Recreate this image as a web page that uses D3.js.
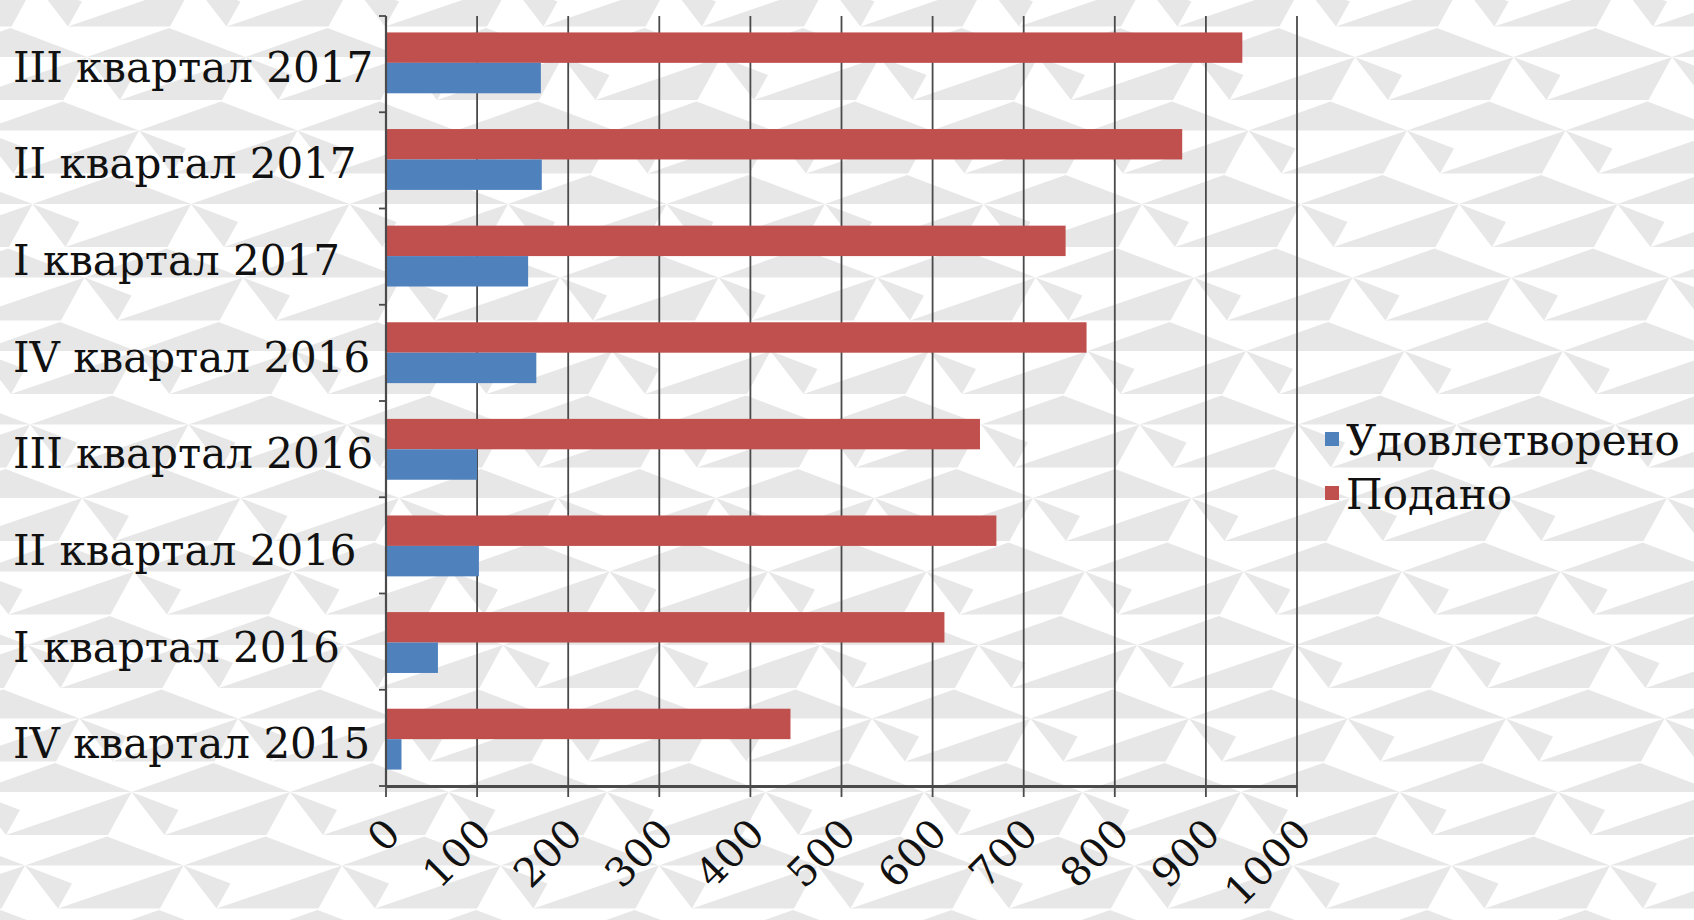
<!DOCTYPE html>
<html><head><meta charset="utf-8">
<script src="https://cdn.jsdelivr.net/npm/d3@7"></script>
<style>body{margin:0;background:#fff;overflow:hidden} svg{display:block}</style>
</head><body><svg id="c" width="1694" height="920"></svg>
<script>
// ---- data ----
const categories = ["IV квартал 2015","I квартал 2016","II квартал 2016","III квартал 2016","IV квартал 2016","I квартал 2017","II квартал 2017","III квартал 2017"];
const satisfied = [17, 57, 102, 100, 165, 156, 171, 170];
const submitted = [444, 613, 670, 652, 769, 746, 874, 940];
const seriesNames = ["Удовлетворено", "Подано"];
const seriesColors = ["#4F81BD", "#C0504D"];
const xTickValues = [0,100,200,300,400,500,600,700,800,900,1000];

(function () {
const W = 1694, H = 920;
const svg = d3.select("#c");

// ---- decorative background pattern ----
const bg = svg.append("g");
bg.append("rect").attr("width", W).attr("height", H).attr("fill", "#ffffff");
const P = 158.5, RH = 73.5, SH = 52, Y0 = 57, X0 = 1355;
const shapes = [
  [[0,0],[82,-29],[P,0]],
  [[0,0],[47,18],[33,43]],
  [[33,43],[P,0],[135,43]]
];
for (let k = -2; k < 14; k++) {
  const vy = Y0 + RH * k;
  let phase = ((X0 + SH * k) % P + P) % P;
  for (let vx = phase - 2 * P; vx < W + P; vx += P) {
    shapes.forEach(s => {
      bg.append("polygon")
        .attr("points", s.map(p => [vx + p[0], vy + p[1]].join(",")).join(" "))
        .attr("fill", "#e7e7e7");
    });
  }
}

// ---- chart ----
const pL = 386, pR = 1297, pT = 16, pB = 786;
const x = d3.scaleLinear().domain([0, 1000]).range([pL, pR]);
const y = d3.scaleBand().domain(categories.slice().reverse()).range([pT, pB]).paddingInner(0.37).paddingOuter(0.17);
const sub = d3.scaleBand().domain(["Подано","Удовлетворено"]).range([0, y.bandwidth()]);

const axisColor = "#4a4a4a";
// gridlines
svg.append("g").selectAll("line").data(xTickValues).join("line")
  .attr("x1", d => x(d)).attr("x2", d => x(d))
  .attr("y1", pT).attr("y2", pB + 11)
  .attr("stroke", axisColor).attr("stroke-width", 1.8);

// bars
const rows = categories.map((c, i) => ({c, s: satisfied[i], p: submitted[i]}));
const gBars = svg.append("g");
gBars.selectAll("rect.p").data(rows).join("rect").attr("class","p")
  .attr("x", x(0)).attr("y", d => y(d.c) + sub("Подано"))
  .attr("width", d => x(d.p) - x(0)).attr("height", sub.bandwidth())
  .attr("fill", seriesColors[1]);
gBars.selectAll("rect.s").data(rows).join("rect").attr("class","s")
  .attr("x", x(0)).attr("y", d => y(d.c) + sub("Удовлетворено"))
  .attr("width", d => x(d.s) - x(0)).attr("height", sub.bandwidth())
  .attr("fill", seriesColors[0]);

// left axis line + category boundary ticks
svg.append("line").attr("x1", pL).attr("x2", pL).attr("y1", pT).attr("y2", pB)
  .attr("stroke", axisColor).attr("stroke-width", 2.2);
const bounds = d3.range(categories.length + 1).map(i => pT + i * (pB - pT) / categories.length);
svg.append("g").selectAll("line").data(bounds).join("line")
  .attr("x1", pL - 7).attr("x2", pL).attr("y1", d => d).attr("y2", d => d)
  .attr("stroke", axisColor).attr("stroke-width", 1.8);

// bottom axis
const xAxis = d3.axisBottom(x).tickValues(xTickValues).tickSize(0).tickFormat(d3.format("d"));
const gx = svg.append("g").attr("transform", `translate(0,${pB})`).call(xAxis);
gx.select(".domain").attr("stroke", axisColor).attr("stroke-width", 3);
gx.selectAll("text")
  .attr("font-family", "DejaVu Serif").attr("font-size", 40).attr("fill", "#111")
  .attr("text-anchor", "end").attr("dy", 0).attr("y", 0)
  .attr("transform", "translate(6,40) rotate(-45)")
  .attr("dominant-baseline", "central");

// category labels (left aligned)
svg.append("g").selectAll("text").data(categories).join("text")
  .attr("x", 13).attr("y", d => y(d) + y.bandwidth() / 2 + 19)
  .attr("font-family", "DejaVu Serif").attr("font-size", 42).attr("fill", "#111")
  .text(d => d);

// legend
const lg = svg.append("g").attr("transform", "translate(1325,432)");
seriesNames.forEach((n, i) => {
  lg.append("rect").attr("x", 0).attr("y", i * 54).attr("width", 14).attr("height", 14).attr("fill", seriesColors[i]);
  lg.append("text").attr("x", 21).attr("y", i * 54 + 23)
    .attr("font-family", "DejaVu Serif").attr("font-size", 42).attr("fill", "#111").text(n);
});
})();
</script></body></html>
